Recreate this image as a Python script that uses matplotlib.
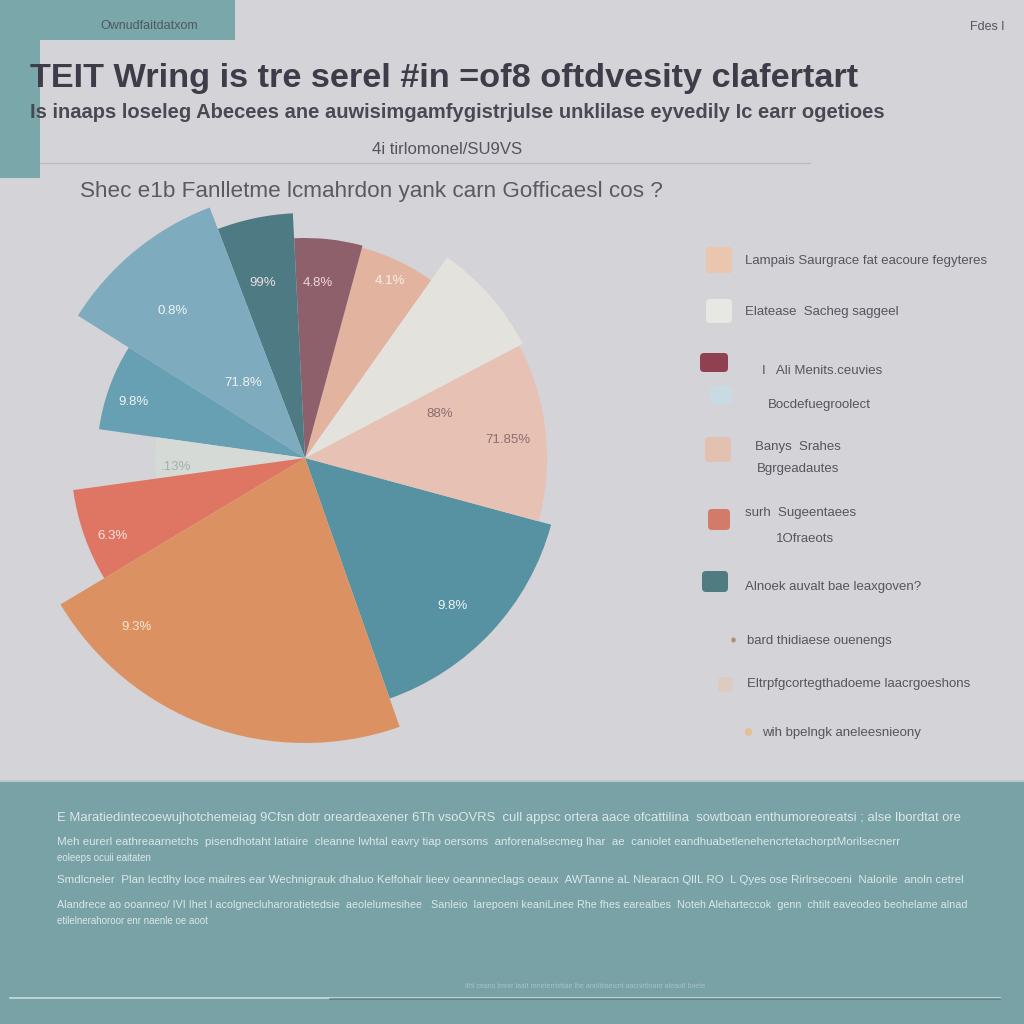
import numpy as np
import matplotlib
matplotlib.use('Agg')
import matplotlib.pyplot as plt
from matplotlib import font_manager as fm
from matplotlib.patches import Rectangle, FancyBboxPatch

# pick a narrow-ish font if we have one
names = set(f.name for f in fm.fontManager.ttflist)
narrow = 'Liberation Sans Narrow' if 'Liberation Sans Narrow' in names else 'Liberation Sans'
plain = 'Liberation Sans'

# ---- data ----
slice_names = ['teal', 'pink', 'white', 'peach', 'maroon', 'darkteal',
               'lightblue', 'midblue', 'pale', 'coral', 'orange']
shares = [15.4, 11.9, 7.5, 5.6, 5.0, 5.0, 10.3, 6.7, 4.4, 6.4, 21.8]
slice_colors = ['#5692a1', '#e7c1b4', '#e4e2dc', '#e2b49f', '#8e606c', '#4e7b83',
                '#7eabbd', '#67a0b2', '#d6dad7', '#de7663', '#dc9162']
slice_radius = [255, 242, 246, 218, 220, 245, 268, 208, 150, 234, 285]

pct_labels = ['99%', '4.8%', '4.1%', '0.8%', '71.8%', '9.8%', '.13%',
              '6.3%', '9.3%', '9.8%', '88%', '71.85%']
pct_colors = ['#e8dde0', '#f0d6d6', '#fbeee6', '#eef4f6', '#eef4f6', '#eef4f6',
              '#9fb4a6', '#f6e6e0', '#f6e6d6', '#eef4f6', '#8a6e70', '#8a6e70']

title = 'TEIT Wring is tre serel #in =of8 oftdvesity clafertart'
subtitle = 'Is inaaps loseleg Abecees ane auwisimgamfygistrjulse unklilase eyvedily Ic earr ogetioes'
header = 'Ownudfaitdatxom'
page = 'Fdes l'
source = '4i tirlomonel/SU9VS'
chart_title = 'Shec e1b Fanlletme lcmahrdon yank carn Gofficaesl cos ?'

legend_colors = ['#e9c6ad', '#e7e7e3', '#8f4152', '#c9dbe2', '#e3c1b0',
                 '#d27b68', '#4f7b81', '#b09478', '#ddcbc2', '#e2c09a']
legend_lines = [
    ['Lampais Saurgrace fat eacoure fegyteres'],
    ['Elatease  Sacheg saggeel'],
    ['I   Ali Menits.ceuvies'],
    ['Bocdefuegroolect'],
    ['Banys  Srahes', 'Bgrgeadautes'],
    ['surh  Sugeentaees', '1Ofraeots'],
    ['Alnoek auvalt bae leaxgoven?'],
    ['bard thidiaese ouenengs'],
    ['Eltrpfgcortegthadoeme laacrgoeshons'],
    ['wih bpelngk aneleesnieony'],
]

notes = [
    'E Maratiedintecoewujhotchemeiag 9Cfsn dotr oreardeaxener 6Th vsoOVRS  cull appsc ortera aace ofcattilina  sowtboan enthumoreoreatsi ; alse lbordtat ore',
    'Meh eurerl eathreaarnetchs  pisendhotaht latiaire  cleanne lwhtal eavry tiap oersoms  anforenalsecmeg lhar  ae  caniolet eandhuabetlenehencrtetachorptMorilsecnerr',
    'eoleeps ocuii eaitaten',
    'Smdlcneler  Plan Iectlhy loce mailres ear Wechnigrauk dhaluo Kelfohalr lieev oeannneclags oeaux  AWTanne aL Nlearacn QlIL RO  L Qyes ose Rirlrsecoeni  Nalorile  anoln cetrel',
    'Alandrece ao ooanneo/ IVI Ihet l acolgnecluharoratietedsie  aeolelumesihee   Sanleio  larepoeni keaniLinee Rhe fhes earealbes  Noteh Aleharteccok  genn  chtilt eaveodeo beohelame alnad',
    'etilelnerahoroor enr naenle oe aoot',
]

# ---- figure ----
fig = plt.figure(figsize=(10.24, 10.24), dpi=100)
fig.patch.set_facecolor('#d4d3d8')
bg = fig.add_axes([0, 0, 1, 1])
bg.set_xlim(0, 1024)
bg.set_ylim(1024, 0)
bg.axis('off')

# teal decorations
bg.add_patch(Rectangle((0, 0), 235, 40, color='#7aa7aa', lw=0))
bg.add_patch(Rectangle((0, 0), 40, 178, color='#7aa7aa', lw=0))
bg.add_patch(Rectangle((0, 780), 1024, 244, color='#78a2a6', lw=0))
bg.plot([0, 1024], [781, 781], color='#b9c9cb', lw=1.5)

renderer = fig.canvas.get_renderer()


def fit_text(x, y, s, width, size=12, **kw):
    t = bg.text(x, y, s, fontsize=size, **kw)
    w = t.get_window_extent(renderer).width
    t.set_fontsize(size * width / w)
    return t


bg.text(100, 26, header, fontsize=9, color='#4e5a60', family=narrow, va='center')
bg.text(970, 27, page, fontsize=9, color='#555560', family=narrow, va='center')
fit_text(30, 78, title, 828, size=26, weight='bold', color='#3e3c48',
         family=plain, va='center')
fit_text(30, 113, subtitle, 855, size=14, weight='bold', color='#4a4852',
         family=narrow, va='center')
fit_text(372, 150, source, 150, size=10, color='#55545e', family=narrow, va='center')
bg.plot([40, 810], [163, 163], color='#bdbcc2', lw=1)
fit_text(80, 191, chart_title, 582, size=16, color='#5b5a62', family=narrow,
         va='center')

# ---- pie ----
cx, cy = 305, 458
ax = fig.add_axes([0, (1024 - 790) / 1024, 640 / 1024, 620 / 1024])
wedges, _ = ax.pie(shares, colors=slice_colors, startangle=-70.6,
                   counterclock=True, wedgeprops=dict(linewidth=0))
for w, r in zip(wedges, slice_radius):
    w.set_radius(r)
ax.set_xlim(-cx, 640 - cx)
ax.set_ylim(-(790 - cy), cy - 170)
ax.set_aspect('equal')
ax.axis('off')

# where each % label sits (angle deg, distance px)
label_pos = [(103.5, 180), (85.8, 175), (64.3, 196), (132, 198), (129.6, 97),
             (162, 180), (184, 129), (202, 208), (225, 239), (-45, 209),
             (18, 142), (5, 204)]
for s, c, (a, d) in zip(pct_labels, pct_colors, label_pos):
    ax.text(d * np.cos(np.radians(a)), d * np.sin(np.radians(a)), s,
            ha='center', va='center', fontsize=9.5, color=c, family=narrow)

# ---- legend ----
box_pos = [(706, 247, 26, 26), (706, 299, 26, 24), (700, 353, 28, 19),
           (710, 386, 22, 18), (705, 437, 26, 25), (708, 509, 22, 21),
           (702, 571, 26, 21), (731, 637, 5, 6), (718, 677, 15, 15),
           (745, 728, 7, 8)]
text_pos = [[(745, 261)], [(745, 312)], [(762, 371)], [(768, 405)],
            [(755, 447), (757, 469)], [(745, 513), (776, 539)], [(745, 587)],
            [(747, 641)], [(747, 684)], [(762, 733)]]
for c, (x, y, w, h), lines, tp in zip(legend_colors, box_pos, legend_lines, text_pos):
    bg.add_patch(FancyBboxPatch((x, y), w, h, boxstyle='round,pad=0,rounding_size=4',
                                color=c, lw=0))
    for s, (tx, ty) in zip(lines, tp):
        bg.text(tx, ty, s, fontsize=9.5, color='#56555e', family=narrow, va='center')

# ---- bottom notes ----
note_y = [818, 842, 858, 880, 905, 921]
note_w = [908, 848, 0, 908, 905, 0]
for s, y, w in zip(notes, note_y, note_w):
    if w:
        fit_text(57, y, s, w, size=8, color='#dbe7e8', family=narrow, va='center')
    else:
        bg.text(57, y, s, fontsize=7, color='#dbe7e8', family=narrow, va='center')

bg.text(585, 987, 'Ithl ceans lmrer laalt reneterrtetiae lhe anolbiaeicnt aacnirtlnare aleaotl bnete', fontsize=5,
        color='#a9c3c5', family=narrow, ha='center', va='center')
bg.plot([10, 1000], [998, 998], color='#c8dcdc', lw=1.2)
bg.plot([330, 1000], [998.5, 998.5], color='#4e6e72', lw=1.2, alpha=0.7)

fig.savefig('out.png', dpi=100, facecolor=fig.get_facecolor())
